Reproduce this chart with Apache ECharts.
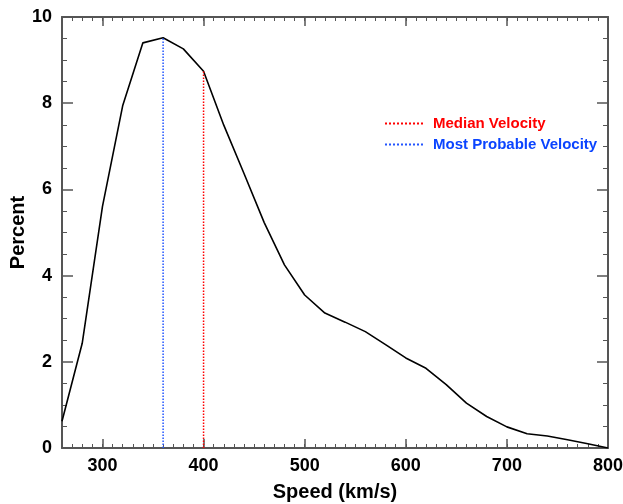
<!DOCTYPE html>
<html>
<head>
<meta charset="utf-8">
<script src="https://cdn.jsdelivr.net/npm/echarts@6/dist/echarts.min.js"></script>
<style>
  html, body { margin: 0; padding: 0; background: #fff; }
  #chart { width: 623px; height: 504px; }
</style>
</head>
<body>
<div id="chart"></div>
<script>
// speed bins (km/s) and percent values
var speeds = [260, 280, 300, 320, 340, 360, 380, 400, 420, 440, 460, 480, 500, 520,
              540, 560, 580, 600, 620, 640, 660, 680, 700, 720, 740, 760, 780, 800];
var percent = [0.62, 2.43, 5.6, 7.94, 9.40, 9.52, 9.26, 8.74, 7.49, 6.37, 5.23, 4.25, 3.55, 3.13,
               2.92, 2.70, 2.40, 2.09, 1.85, 1.47, 1.04, 0.73, 0.49, 0.33, 0.28, 0.19, 0.10, 0.0];
var medianVelocity = 400;
var mostProbableVelocity = 360;
var xTickLabels = [300, 400, 500, 600, 700, 800];

var chart = echarts.init(document.getElementById('chart'));

var font = 'Liberation Sans, Arial, Helvetica, sans-serif';
var axisCol = '#555';

function valueAt(x) {
    var i = speeds.indexOf(x);
    return percent[i];
}

var lineData = [];
for (var i = 0; i < speeds.length; i++) {
    lineData.push([speeds[i], percent[i]]);
}

// major ticks/labels axis
function majorX(pos, labels) {
    return {
        type: 'value', position: pos, min: 260, max: 800,
        name: labels ? 'Speed (km/s)' : '', nameLocation: 'middle', nameGap: 34,
        nameTextStyle: {fontFamily: font, fontWeight: 'bold', fontSize: 20, color: '#000'},
        axisLine: {show: true, onZero: false, lineStyle: {color: axisCol, width: 2}},
        axisTick: {show: true, inside: true, length: 9, customValues: xTickLabels,
                   lineStyle: {color: axisCol, width: 1.5}},
        axisLabel: {show: labels, customValues: xTickLabels, margin: 9,
                    fontFamily: font, fontWeight: 'bold', fontSize: 18, color: '#000'},
        splitLine: {show: false}
    };
}
// minor ticks axis (every 10 km/s)
function minorX(pos) {
    return {
        type: 'value', position: pos, min: 260, max: 800, interval: 10,
        axisLine: {show: false, onZero: false},
        axisTick: {show: true, inside: true, length: 4, lineStyle: {color: axisCol, width: 1}},
        axisLabel: {show: false},
        splitLine: {show: false}
    };
}
function yAx(pos, labels) {
    return {
        type: 'value', position: pos, min: 0, max: 10, interval: 2,
        name: labels ? 'Percent' : '', nameLocation: 'middle', nameGap: 34, nameMoveOverlap: false,
        nameTextStyle: {fontFamily: font, fontWeight: 'bold', fontSize: 20, color: '#000'},
        axisLine: {show: true, onZero: false, lineStyle: {color: axisCol, width: 2}},
        axisTick: {show: true, inside: true, length: 11, lineStyle: {color: axisCol, width: 1.5}},
        minorTick: {show: true, splitNumber: 4, length: 5, lineStyle: {color: axisCol, width: 1}},
        axisLabel: {show: labels, margin: 10, fontFamily: font, fontWeight: 'bold', fontSize: 18, color: '#000'},
        splitLine: {show: false}
    };
}

chart.setOption({
    animation: false,
    grid: {left: 62, right: 15, top: 17, bottom: 56, containLabel: false, outerBoundsMode: 'none'},
    legend: {
        orient: 'vertical', left: 379, top: 111,
        itemWidth: 40, itemHeight: 14, itemGap: 6,
        itemStyle: {opacity: 0, borderWidth: 0},
        data: [
            {name: 'Median Velocity', textStyle: {color: '#ff0000'}},
            {name: 'Most Probable Velocity', textStyle: {color: '#0a44ff'}}
        ],
        textStyle: {fontFamily: font, fontWeight: 'bold', fontSize: 15, padding: [0, 0, 0, 3]}
    },
    xAxis: [majorX('bottom', true), minorX('bottom'), majorX('top', false), minorX('top')],
    yAxis: [yAx('left', true), yAx('right', false)],
    series: [
        {
            name: 'Percent', type: 'line', data: lineData, showSymbol: false, symbol: 'none',
            lineStyle: {color: '#000', width: 1.6}, z: 3
        },
        {
            name: 'Median Velocity', type: 'line', symbol: 'none',
            data: [[medianVelocity, 0], [medianVelocity, valueAt(medianVelocity)]],
            lineStyle: {color: '#ff0000', width: 1.5, type: 'dotted'}, itemStyle: {color: '#ff0000'}
        },
        {
            name: 'Most Probable Velocity', type: 'line', symbol: 'none',
            data: [[mostProbableVelocity, 0], [mostProbableVelocity, valueAt(mostProbableVelocity)]],
            lineStyle: {color: '#2255ff', width: 1.5, type: 'dotted'}, itemStyle: {color: '#2255ff'}
        }
    ]
});
</script>
</body>
</html>
